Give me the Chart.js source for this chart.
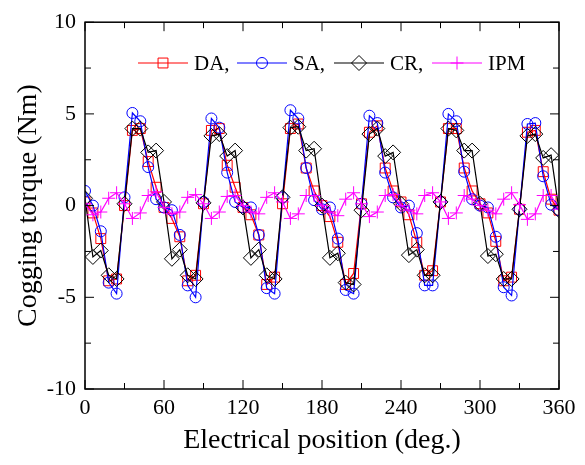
<!DOCTYPE html>
<html>
<head>
<meta charset="utf-8">
<script src="https://cdn.jsdelivr.net/npm/chart.js@4.4.0/dist/chart.umd.min.js"></script>
<style>
  html, body { margin: 0; padding: 0; background: #fff; }
</style>
</head>
<body>
<canvas id="myChart" width="585" height="465"></canvas>
<script>
// electrical position (deg.), one sample every 6 deg
const positions = [0, 6, 12, 18, 24, 30, 36, 42, 48, 54,
  60, 66, 72, 78, 84, 90, 96, 102, 108, 114,
  120, 126, 132, 138, 144, 150, 156, 162, 168, 174,
  180, 186, 192, 198, 204, 210, 216, 222, 228, 234,
  240, 246, 252, 258, 264, 270, 276, 282, 288, 294,
  300, 306, 312, 318, 324, 330, 336, 342, 348, 354, 360];

// cogging torque (Nm)
const daTorque = [0.2, -0.4, -1.8, -4.1, -4.0, 0.0, 4.1, 4.2, 2.4, 1.0,
  -0.1, -0.7, -1.7, -4.1, -3.8, 0.1, 4.1, 4.2, 2.2, 1.0,
  -0.1, -0.5, -1.6, -4.3, -3.9, 0.1, 4.2, 4.45, 2.05, 0.8,
  0.0, -0.6, -2.0, -4.3, -3.7, 0.1, 4.0, 4.35, 2.05, 0.8,
  0.2, -0.5, -2.0, -3.8, -3.55, 0.2, 4.2, 4.2, 2.05, 0.8,
  0.1, -0.4, -1.95, -4.1, -3.9, -0.2, 4.0, 4.1, 1.85, 0.35, -0.25];

const saTorque = [0.8, 0.0, -1.4, -4.2, -4.8, 0.45, 5.05, 4.6, 2.1, 0.35,
  -0.1, -0.25, -1.6, -4.35, -5.0, 0.2, 4.75, 4.25, 1.8, 0.2,
  -0.1, -0.1, -1.6, -4.5, -4.8, 0.45, 5.2, 4.75, 2.05, 0.3,
  -0.2, -0.1, -1.8, -4.6, -4.8, 0.1, 4.9, 4.5, 1.8, 0.45,
  -0.1, 0.0, -1.5, -4.35, -4.35, 0.2, 5.0, 4.6, 1.85, 0.35,
  0.0, -0.1, -1.7, -4.45, -4.9, -0.2, 4.45, 4.5, 1.6, 0.05, -0.25];

const crTorque = [0.4, -2.8, -2.45, -3.8, -4.0, 0.1, 4.2, 4.2, 2.9, 3.0,
  0.2, -2.9, -2.4, -3.8, -4.0, 0.15, 3.8, 3.9, 2.7, 3.0,
  -0.1, -2.85, -2.4, -3.8, -4.0, 0.45, 4.25, 4.3, 3.0, 3.1,
  0.0, -2.85, -2.6, -4.2, -4.3, -0.25, 3.9, 4.2, 2.7, 2.9,
  0.1, -2.7, -2.4, -3.8, -3.8, 0.2, 4.2, 4.1, 3.0, 3.0,
  0.1, -2.75, -2.65, -4.0, -4.0, -0.2, 3.8, 3.9, 2.6, 2.75, -0.25];

const ipmTorque = [0.1, -0.5, -0.35, 0.4, 0.7, 0.1, -0.7, -0.4, 0.55, 0.75,
  -0.1, -0.45, -0.35, 0.45, 0.6, 0.1, -0.7, -0.35, 0.5, 0.55,
  0.0, -0.35, -0.45, 0.45, 0.7, 0.2, -0.7, -0.45, 0.55, 0.55,
  0.0, -0.35, -0.55, 0.35, 0.7, 0.1, -0.6, -0.35, 0.55, 0.6,
  0.0, -0.25, -0.45, 0.55, 0.7, 0.2, -0.7, -0.4, 0.55, 0.35,
  0.0, -0.25, -0.45, 0.35, 0.7, 0.05, -0.75, -0.45, 0.55, 0.55, -0.2];

const xTicks = [0, 60, 120, 180, 240, 300, 360];
const xMinorTicks = [0, 30, 60, 90, 120, 150, 180, 210, 240, 270, 300, 330, 360];
const yTicks = [-10, -5, 0, 5, 10];
const yMinorTicks = [-10, -7.5, -5, -2.5, 0, 2.5, 5, 7.5, 10];

const seriesNames = ['DA,', 'SA,', 'CR,', 'IPM'];
const seriesColors = ['#ff0000', '#0000ff', '#000000', '#ff00ff'];
const seriesMarkers = ['rect', 'circle', 'rectRot', 'cross'];
const markerSizes = [7, 5.5, 7.5, 6.5];
const seriesValues = [daTorque, saTorque, crTorque, ipmTorque];

const serif = "'Liberation Serif', 'Times New Roman', serif";

const datasets = seriesNames.map((name, i) => ({
  label: name,
  data: positions.map((p, j) => ({ x: p, y: seriesValues[i][j] })),
  borderColor: seriesColors[i],
  backgroundColor: 'rgba(0,0,0,0)',
  borderWidth: 1.2,
  pointStyle: seriesMarkers[i],
  pointRadius: markerSizes[i],
  pointBorderColor: seriesColors[i],
  pointBackgroundColor: 'rgba(0,0,0,0)',
  pointBorderWidth: 1,
  tension: 0,
  order: 4 - i
}));

// little marker drawer for the hand drawn legend
function drawMarker(ctx, style, x, y, r) {
  ctx.beginPath();
  if (style === 'rect') {
    const s = r * Math.SQRT1_2;
    ctx.rect(x - s, y - s, 2 * s, 2 * s);
  } else if (style === 'circle') {
    ctx.arc(x, y, r, 0, Math.PI * 2);
  } else if (style === 'rectRot') {
    ctx.moveTo(x - r, y); ctx.lineTo(x, y - r); ctx.lineTo(x + r, y); ctx.lineTo(x, y + r); ctx.closePath();
  } else {
    ctx.moveTo(x - r, y); ctx.lineTo(x + r, y); ctx.moveTo(x, y - r); ctx.lineTo(x, y + r);
  }
  ctx.stroke();
}

const frameAndLegend = {
  id: 'frameAndLegend',
  afterDraw(chart) {
    const { ctx, chartArea: a, scales: { x, y } } = chart;
    ctx.save();
    ctx.strokeStyle = '#000';
    ctx.lineWidth = 1.5;
    ctx.strokeRect(a.left, a.top, a.right - a.left, a.bottom - a.top);

    // inward ticks on all four sides
    ctx.lineWidth = 1;
    ctx.beginPath();
    xMinorTicks.forEach(v => {
      const px = x.getPixelForValue(v);
      const len = xTicks.includes(v) ? 9 : 6;
      ctx.moveTo(px, a.bottom); ctx.lineTo(px, a.bottom - len);
      ctx.moveTo(px, a.top); ctx.lineTo(px, a.top + len);
    });
    yMinorTicks.forEach(v => {
      const py = y.getPixelForValue(v);
      const len = yTicks.includes(v) ? 9 : 6;
      ctx.moveTo(a.left, py); ctx.lineTo(a.left + len, py);
      ctx.moveTo(a.right, py); ctx.lineTo(a.right - len, py);
    });
    ctx.stroke();

    // legend row
    const legendX = [138, 237, 334, 432];
    const ly = 63;
    ctx.font = '21px ' + serif;
    ctx.textBaseline = 'middle';
    seriesNames.forEach((name, i) => {
      ctx.strokeStyle = seriesColors[i];
      ctx.lineWidth = 1.2;
      ctx.beginPath();
      ctx.moveTo(legendX[i], ly); ctx.lineTo(legendX[i] + 50, ly);
      ctx.stroke();
      ctx.lineWidth = 1;
      drawMarker(ctx, seriesMarkers[i], legendX[i] + 25, ly, markerSizes[i]);
      ctx.fillStyle = '#000';
      ctx.fillText(name, legendX[i] + 56, ly + 1);
    });
    ctx.restore();
  }
};

const ctx = document.getElementById('myChart').getContext('2d');
const chart = new Chart(ctx, {
  type: 'line',
  data: { datasets: datasets },
  options: {
    responsive: false,
    animation: false,
    devicePixelRatio: 1,
    layout: { padding: { top: 15, right: 26, left: 0, bottom: 0 } },
    plugins: { legend: { display: false }, tooltip: { enabled: false } },
    scales: {
      x: {
        type: 'linear',
        min: 0, max: 360,
        afterBuildTicks: scale => { scale.ticks = xTicks.map(v => ({ value: v })); },
        afterFit: scale => { scale.height = 76; },
        grid: { display: false, drawTicks: false },
        border: { display: false },
        ticks: { color: '#000', padding: 6, maxRotation: 0, font: { family: serif, size: 22 } },
        title: {
          display: true, text: 'Electrical position (deg.)', color: '#000',
          padding: { top: 0, bottom: 8 },
          font: { family: serif, size: 28 }
        }
      },
      y: {
        min: -10, max: 10,
        afterBuildTicks: scale => { scale.ticks = yTicks.map(v => ({ value: v })); },
        afterFit: scale => { scale.width = 85; },
        grid: { display: false, drawTicks: false },
        border: { display: false },
        ticks: { color: '#000', padding: 9, font: { family: serif, size: 22 } },
        title: {
          display: true, text: 'Cogging torque (Nm)', color: '#000',
          padding: { top: 12, bottom: 0 },
          font: { family: serif, size: 28 }
        }
      }
    }
  },
  plugins: [frameAndLegend]
});
</script>
</body>
</html>
